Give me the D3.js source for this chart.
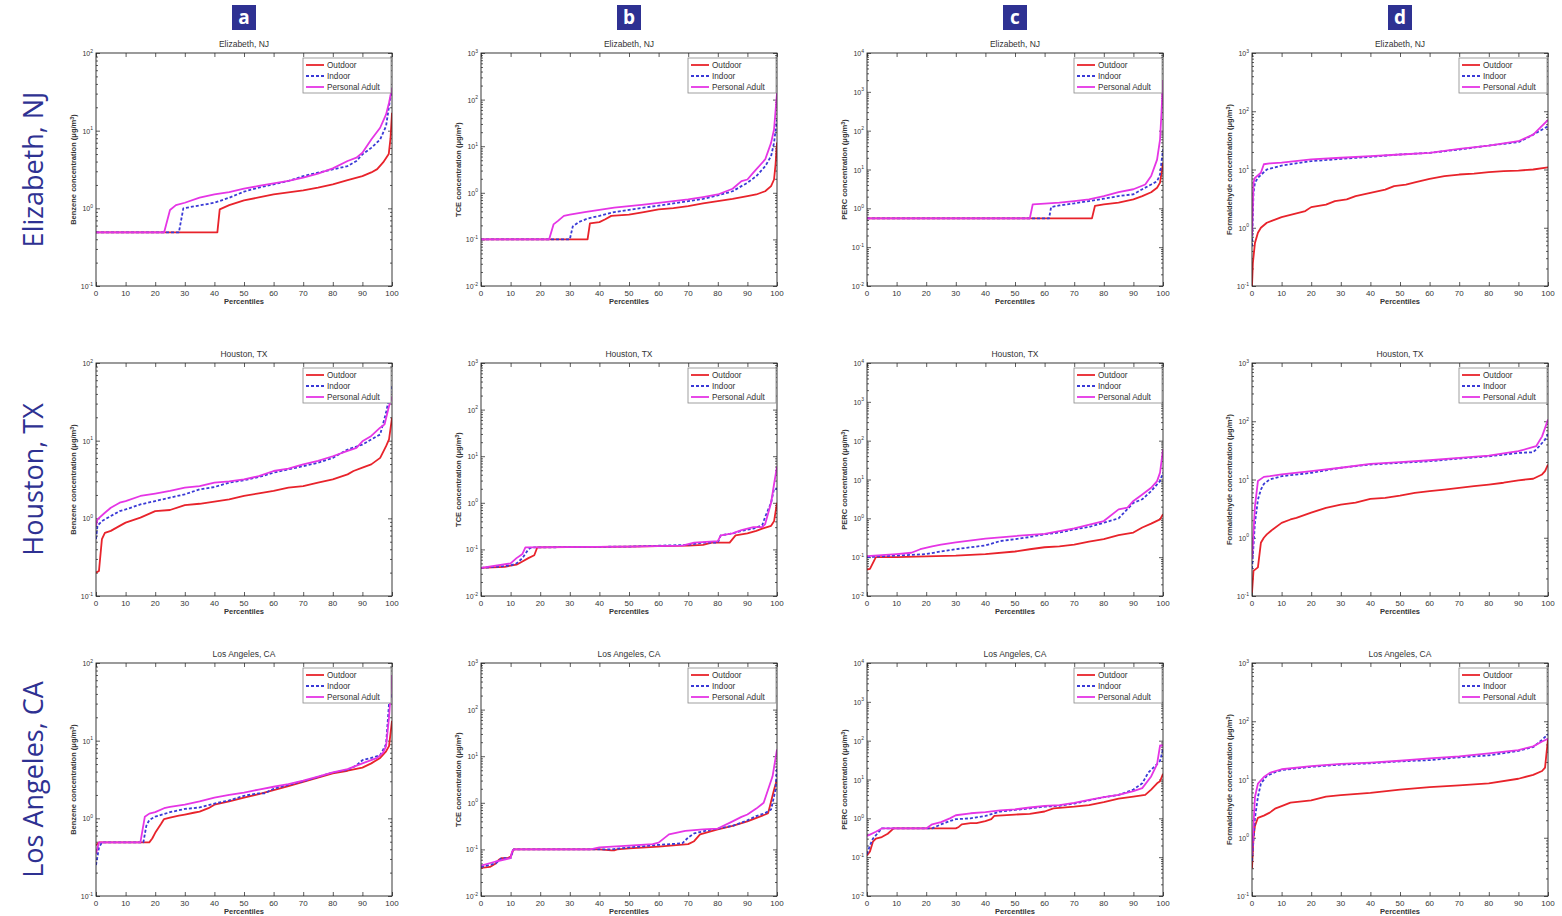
<!DOCTYPE html>
<html>
<head>
<meta charset="utf-8">
<script src="https://cdn.jsdelivr.net/npm/d3@7"></script>
<style>
  body { margin: 0; background: #fff; }
  svg { display: block; }
  text { font-family: "Liberation Sans", Arial, sans-serif; }
</style>
</head>
<body>
<div id="chart"></div>
<script>
// ---- data: [percentile, concentration µg/m3] ----
var cities = ["Elizabeth, NJ", "Houston, TX", "Los Angeles, CA"];
var panelLetters = ["a", "b", "c", "d"];
var pollutants = ["Benzene", "TCE", "PERC", "Formaldehyde"];
var yExponents = [[-1, 2], [-2, 3], [-2, 4], [-1, 3]];
var xTicks = [0, 10, 20, 30, 40, 50, 60, 70, 80, 90, 100];
var seriesNames = ["Outdoor", "Indoor", "Personal Adult"];

var elizBenzeneOut = [[0,0.49],[41,0.49],[41.8,0.97],[45,1.1],[50,1.27],[55,1.38],[60,1.51],[65,1.6],[70,1.7],[75,1.85],[80,2.04],[85,2.3],[90,2.6],[93,2.9],[95,3.2],[97,3.9],[98.9,5],[99.5,8],[100,17]];
var elizBenzeneIn = [[0,0.49],[28,0.49],[29.5,1.0],[35,1.09],[40,1.18],[45,1.37],[50,1.64],[55,1.85],[60,2.04],[65,2.25],[70,2.6],[75,2.88],[80,3.17],[85,3.5],[88,4.07],[90,4.95],[93,6.0],[96,7.7],[98,11.5],[99,20.7],[100,35.6]];
var elizBenzenePers = [[0,0.49],[23,0.49],[25,0.95],[27,1.1],[30,1.18],[35,1.37],[40,1.51],[45,1.62],[50,1.79],[55,1.94],[60,2.1],[65,2.25],[70,2.48],[75,2.8],[80,3.27],[85,4.07],[88,4.5],[90,5.2],[93,7.7],[96,10.9],[98,16.2],[99,22.9],[100,35.6]];

var elizTceOut = [[0,0.1],[36,0.1],[36.8,0.22],[40,0.235],[42,0.27],[44,0.32],[50,0.34],[55,0.385],[60,0.44],[65,0.47],[70,0.52],[75,0.59],[80,0.66],[85,0.74],[90,0.85],[93,0.92],[96,1.08],[98,1.39],[99,1.93],[99.5,4],[100,12]];
var elizTceIn = [[0,0.1],[30,0.1],[31,0.19],[33,0.235],[36,0.28],[40,0.32],[45,0.385],[50,0.43],[55,0.48],[60,0.53],[65,0.59],[70,0.66],[75,0.74],[80,0.88],[85,1.08],[88,1.39],[90,1.64],[93,2.27],[96,3.7],[98,6.1],[99,11.8],[100,37]];
var elizTcePers = [[0,0.1],[23,0.1],[24.5,0.21],[26,0.25],[28,0.32],[30,0.34],[35,0.385],[40,0.43],[45,0.48],[50,0.52],[55,0.56],[60,0.61],[65,0.66],[70,0.72],[75,0.81],[80,0.92],[85,1.22],[88,1.78],[90,1.93],[92,2.7],[96,5.2],[98,11.8],[99,22.8],[100,139]];

var elizPercOut = [[0,0.55],[76,0.55],[77,1.15],[80,1.27],[85,1.4],[90,1.7],[93,2.07],[96,2.6],[98,3.4],[99,4.6],[100,15]];
var elizPercIn = [[0,0.55],[61.5,0.55],[62.2,1.08],[65,1.19],[70,1.34],[75,1.54],[80,1.77],[85,2.07],[90,2.3],[93,3.1],[96,4.1],[98,5.0],[99,7.5],[100,33]];
var elizPercPers = [[0,0.55],[55,0.55],[56,1.27],[60,1.32],[65,1.4],[70,1.54],[75,1.7],[80,2.07],[85,2.6],[90,3.1],[94,4.1],[96,6.8],[98,18],[99,59],[99.5,300],[100,2000]];

var elizFormOut = [[0,0.1],[0.3,0.25],[1,0.55],[2,0.82],[3,1.0],[5,1.22],[8,1.39],[10,1.52],[15,1.76],[18,1.93],[20,2.26],[25,2.5],[28,2.86],[32,3.06],[35,3.5],[40,3.98],[45,4.5],[48,5.2],[52,5.5],[55,6.0],[60,6.9],[65,7.7],[70,8.2],[75,8.5],[80,9.0],[85,9.4],[90,9.6],[95,10],[100,10.9]];
var elizFormIn = [[0,0.48],[0.5,4],[1,5.9],[2,7.2],[5,10],[10,11.7],[20,13.9],[30,15.2],[40,16.5],[50,18.1],[60,19.3],[70,22],[80,25.8],[90,29.5],[93,34.9],[96,42.5],[100,55]];
var elizFormPers = [[0,0.72],[0.5,5.9],[1,7.2],[3,8.8],[4,12.3],[6,12.7],[10,13.1],[20,14.9],[30,15.9],[40,16.9],[50,18.1],[60,19.3],[70,22.6],[80,25.8],[90,30.6],[95,39.8],[100,71]];

var houBenzeneOut = [[0,0.2],[1,0.21],[2,0.54],[3,0.65],[5,0.69],[8,0.8],[10,0.88],[15,1.02],[20,1.24],[25,1.28],[30,1.48],[35,1.54],[40,1.64],[45,1.76],[50,1.94],[55,2.1],[60,2.25],[65,2.48],[70,2.6],[75,2.88],[80,3.17],[85,3.68],[87,4.07],[90,4.5],[93,4.95],[96,6.0],[98,8.5],[99,10.4],[100,19.7]];
var houBenzeneIn = [[0,0.54],[0.5,0.8],[2,0.92],[5,1.07],[8,1.24],[10,1.3],[15,1.51],[20,1.67],[25,1.85],[30,2.04],[35,2.36],[40,2.53],[45,2.88],[50,3.1],[55,3.4],[60,3.87],[65,4.27],[70,4.7],[75,5.2],[80,6.0],[85,7.7],[90,8.9],[93,10.4],[96,12.0],[98,23],[99,35.7],[100,50]];
var houBenzenePers = [[0,0.8],[0.5,0.97],[3,1.18],[5,1.37],[8,1.59],[10,1.67],[15,1.94],[20,2.08],[25,2.25],[30,2.48],[35,2.6],[40,2.88],[45,3.0],[50,3.17],[55,3.5],[60,4.07],[65,4.36],[70,4.95],[75,5.5],[80,6.3],[85,7.4],[88,8.1],[90,9.8],[93,11.5],[96,14.7],[97.5,16.2],[99,27.9],[100,37]];

var houTceOut = [[0,0.04],[8,0.042],[10,0.045],[12,0.047],[14,0.055],[16,0.065],[18,0.075],[19,0.11],[50,0.115],[70,0.12],[75,0.125],[78,0.14],[84,0.14],[86,0.2],[90,0.22],[93,0.25],[95,0.28],[98,0.32],[99,0.4],[100,1.0]];
var houTceIn = [[0,0.04],[10,0.045],[12,0.05],[14,0.065],[16,0.1],[17,0.11],[50,0.115],[70,0.125],[75,0.14],[80,0.14],[81,0.2],[85,0.22],[88,0.25],[92,0.28],[95,0.33],[96,0.5],[98,1.0],[99,2.0],[100,2.0]];
var houTcePers = [[0,0.04],[10,0.05],[12,0.065],[14,0.08],[15,0.11],[50,0.115],[68,0.12],[72,0.14],[80,0.15],[81,0.2],[85,0.22],[88,0.26],[92,0.3],[95,0.3],[96,0.35],[98,1.0],[99,2.5],[100,6]];

var houPercOut = [[0,0.048],[1,0.05],[3,0.1],[10,0.1],[20,0.105],[30,0.11],[40,0.12],[50,0.14],[55,0.16],[60,0.18],[65,0.19],[70,0.21],[75,0.25],[80,0.29],[85,0.37],[90,0.43],[93,0.58],[96,0.73],[99,0.94],[100,1.27]];
var houPercIn = [[0,0.1],[10,0.11],[20,0.12],[25,0.14],[30,0.16],[35,0.18],[40,0.2],[45,0.26],[50,0.29],[55,0.33],[60,0.39],[65,0.43],[70,0.52],[75,0.6],[80,0.77],[85,1.0],[90,2.5],[93,3.1],[96,5.0],[98,7.5],[99,9.1],[100,15]];
var houPercPers = [[0,0.106],[10,0.12],[15,0.13],[18,0.16],[22,0.19],[25,0.21],[30,0.24],[40,0.3],[50,0.35],[60,0.4],[70,0.55],[80,0.85],[85,1.7],[88,1.88],[90,2.8],[93,4.1],[96,6.1],[98,9.1],[99,15],[100,59]];

var houFormOut = [[0,0.114],[0.5,0.27],[2,0.31],[3,0.82],[4,1.0],[5,1.14],[7,1.39],[10,1.8],[13,2.06],[15,2.2],[20,2.7],[25,3.27],[30,3.7],[35,4.0],[40,4.66],[45,4.85],[50,5.3],[55,5.9],[60,6.3],[65,6.7],[70,7.2],[75,7.7],[80,8.2],[85,8.8],[90,9.7],[95,10.3],[98,12.2],[99,13.9],[100,18.1]];
var houFormIn = [[0,0.29],[1,1.8],[2,4.5],[3,6.7],[4,8.4],[6,10],[10,11.4],[20,13],[30,15.9],[40,18.1],[50,19.3],[60,20.6],[70,22.9],[80,25],[90,28.6],[95,29.4],[97,37],[99,48.5],[100,60]];
var houFormPers = [[0,0.43],[1,3.5],[2,9.4],[4,11.1],[6,11.4],[10,12.2],[20,13.9],[30,15.9],[40,18.6],[50,19.9],[60,21.4],[70,23.5],[80,25.8],[90,30.6],[96,37.3],[98,55],[100,107]];

var laBenzeneOut = [[0,0.45],[1,0.49],[18,0.49],[19,0.55],[20,0.65],[22,0.85],[23,0.98],[25,1.02],[28,1.08],[30,1.12],[33,1.18],[35,1.22],[38,1.35],[40,1.5],[45,1.65],[50,1.85],[55,2.05],[60,2.3],[65,2.6],[70,2.95],[75,3.35],[80,3.8],[85,4.1],[90,4.5],[93,5.1],[96,6.0],[98,7.3],[99,8.5],[100,18]];
var laBenzeneIn = [[0,0.25],[1,0.42],[2,0.49],[16,0.49],[17,0.8],[18,0.95],[20,1.05],[25,1.2],[30,1.32],[35,1.38],[40,1.55],[45,1.7],[50,1.95],[55,2.1],[57,2.1],[60,2.4],[65,2.7],[70,3.0],[75,3.4],[80,3.9],[85,4.2],[88,4.8],[90,5.6],[93,6.0],[96,6.5],[98,9],[99,30],[100,40]];
var laBenzenePers = [[0,0.35],[1,0.49],[15,0.49],[16.5,1.05],[18,1.15],[20,1.2],[23,1.35],[25,1.4],[30,1.5],[35,1.65],[40,1.85],[45,2.0],[50,2.15],[55,2.35],[60,2.55],[65,2.75],[70,3.05],[75,3.45],[80,3.9],[85,4.3],[90,5.1],[95,6.0],[97,7.0],[98,8.5],[99,20],[100,70]];

var laTceOut = [[0,0.04],[3,0.042],[5,0.05],[6,0.06],[7,0.065],[9,0.065],[10,0.07],[11,0.1],[40,0.1],[44,0.095],[45,0.095],[46,0.1],[50,0.105],[60,0.115],[70,0.13],[72,0.15],[74,0.21],[80,0.27],[85,0.32],[90,0.4],[96,0.56],[97,0.6],[99,1.9],[100,3.2]];
var laTceIn = [[0,0.042],[5,0.05],[7,0.065],[10,0.065],[11,0.1],[38,0.1],[44,0.1],[50,0.11],[60,0.125],[68,0.135],[70,0.18],[72,0.22],[77,0.26],[80,0.28],[85,0.32],[90,0.42],[93,0.52],[96,0.6],[98,0.72],[99.5,1.9],[100,6]];
var laTcePers = [[0,0.045],[5,0.055],[10,0.065],[10.5,0.09],[11,0.1],[37,0.1],[40,0.11],[50,0.12],[58,0.13],[60,0.14],[63.5,0.21],[69,0.25],[75,0.27],[80,0.28],[85,0.4],[88,0.5],[90,0.56],[93,0.75],[95.5,1.0],[98.5,3.7],[100,14]];

var laPercOut = [[0,0.11],[1,0.14],[2,0.25],[3,0.3],[5,0.33],[7,0.4],[9,0.55],[30,0.55],[31,0.6],[32,0.7],[35,0.75],[37,0.75],[40,0.85],[42,0.95],[43,1.15],[50,1.25],[55,1.3],[60,1.5],[63,1.8],[70,2.0],[75,2.2],[80,2.6],[85,3.2],[90,3.6],[94,4.0],[96,5.5],[98,8],[99,9],[100,14]];
var laPercIn = [[0,0.12],[1,0.2],[2,0.3],[4,0.45],[5,0.55],[22,0.55],[25,0.7],[28,0.85],[30,0.95],[35,1.0],[40,1.15],[45,1.5],[50,1.65],[55,1.8],[60,2.0],[65,2.1],[70,2.4],[75,2.9],[80,3.5],[85,4.0],[90,5.5],[93,8.0],[95,15],[98,25],[99,30],[100,60]];
var laPercPers = [[0,0.35],[1,0.38],[3,0.45],[5,0.55],[20,0.55],[22,0.7],[25,0.8],[28,1.0],[30,1.2],[35,1.35],[40,1.45],[45,1.6],[50,1.7],[55,1.9],[60,2.1],[65,2.2],[70,2.5],[75,3.0],[80,3.5],[85,4.0],[90,5.0],[93,6.0],[96,12],[98,25],[99,75],[100,75]];

var laFormOut = [[0,0.3],[0.5,1.0],[1,1.6],[2,2.2],[4,2.4],[6,2.7],[8,3.2],[10,3.5],[13,4.0],[20,4.4],[25,5.1],[30,5.4],[40,5.9],[50,6.7],[60,7.4],[70,7.9],[80,8.6],[90,10.3],[95,12],[98,14],[99,16],[100,50]];
var laFormIn = [[0,0.4],[1,2.2],[2,5],[3,8.5],[5,11.5],[8,13.5],[10,14.5],[20,16.5],[30,18],[40,19],[50,20.5],[60,21.5],[70,24],[80,26],[90,31],[95,36],[98,48],[100,60]];
var laFormPers = [[0,0.5],[1,5],[2,8.5],[4,11],[6,13],[10,15],[20,17],[30,18.5],[40,19.5],[50,21],[60,23],[70,25],[80,28],[90,32],[95,37],[98,45],[100,50]];

// rows = cities, cols = pollutants, each [outdoor, indoor, personal]
var panelData = [
  [[elizBenzeneOut, elizBenzeneIn, elizBenzenePers], [elizTceOut, elizTceIn, elizTcePers],
   [elizPercOut, elizPercIn, elizPercPers], [elizFormOut, elizFormIn, elizFormPers]],
  [[houBenzeneOut, houBenzeneIn, houBenzenePers], [houTceOut, houTceIn, houTcePers],
   [houPercOut, houPercIn, houPercPers], [houFormOut, houFormIn, houFormPers]],
  [[laBenzeneOut, laBenzeneIn, laBenzenePers], [laTceOut, laTceIn, laTcePers],
   [laPercOut, laPercIn, laPercPers], [laFormOut, laFormIn, laFormPers]]
];

// ---- layout ----
var W = 1562, H = 916;
var colLeft = [96, 481, 867, 1252],
    rowTop = [53, 363, 663],
    pw = 296, ph = 233;
var navy = "#2e3192";
var colors = ["#e8232b", "#3a3ad6", "#e535e5"];
var dashes = [null, "3,2", null];

var svg = d3.select("#chart").append("svg").attr("width", W).attr("height", H);

// column letters
panelLetters.forEach(function(l, c) {
  var cx = colLeft[c] + pw / 2;
  svg.append("rect").attr("x", cx - 12).attr("y", 5).attr("width", 24).attr("height", 25).attr("fill", navy);
  svg.append("text").attr("x", cx).attr("y", 24).attr("text-anchor", "middle")
    .attr("fill", "#fff").style("font-size", "19px").style("font-weight", "bold")
    .style("font-family", "'Open Sans', sans-serif").text(l);
});

// row labels
cities.forEach(function(city, r) {
  var cy = rowTop[r] + ph / 2;
  svg.append("text").attr("transform", "translate(43," + cy + ") rotate(-90)")
    .attr("text-anchor", "middle").attr("fill", navy)
    .style("font-size", "27px").style("font-family", "'Open Sans', sans-serif")
    .text(city);
});

var line = d3.line();

for (var r = 0; r < 3; r++) {
  for (var c = 0; c < 4; c++) {
    drawPanel(r, c);
  }
}

function drawPanel(r, c) {
  var ex = yExponents[c];
  var x = d3.scaleLinear().domain([0, 100]).range([0, pw]);
  var y = d3.scaleLog().domain([Math.pow(10, ex[0]), Math.pow(10, ex[1])]).range([ph, 0]);

  var g = svg.append("g").attr("transform", "translate(" + colLeft[c] + "," + rowTop[r] + ")");
  var clipId = "clip" + r + c;
  g.append("clipPath").attr("id", clipId).append("rect").attr("width", pw).attr("height", ph);

  var majors = d3.range(ex[0], ex[1] + 1).map(function(e) { return Math.pow(10, e); });
  var minors = [];
  d3.range(ex[0], ex[1]).forEach(function(e) {
    for (var k = 2; k < 10; k++) minors.push(k * Math.pow(10, e));
  });

  // ticks (inside, all sides, MATLAB style)
  var yAxisL = d3.axisLeft(y).tickValues(majors).tickSize(-4).tickFormat("");
  var yAxisR = d3.axisRight(y).tickValues(majors).tickSize(-4).tickFormat("");
  var yMinL = d3.axisLeft(y).tickValues(minors).tickSize(-2).tickFormat("");
  var yMinR = d3.axisRight(y).tickValues(minors).tickSize(-2).tickFormat("");
  var xAxisB = d3.axisBottom(x).tickValues(xTicks).tickSize(-4).tickFormat("");
  var xAxisT = d3.axisTop(x).tickValues(xTicks).tickSize(-4).tickFormat("");

  [[yAxisL, 0, 0], [yMinL, 0, 0], [yAxisR, pw, 0], [yMinR, pw, 0], [xAxisB, 0, ph], [xAxisT, 0, 0]].forEach(function(a) {
    var ag = g.append("g").attr("transform", "translate(" + a[1] + "," + a[2] + ")").call(a[0]);
    ag.select(".domain").remove();
    ag.selectAll("line").attr("stroke", "#333").attr("stroke-width", 0.8);
  });

  // y tick labels 10^n
  majors.forEach(function(v, i) {
    var t = g.append("text").attr("x", -3).attr("y", y(v) + 3).attr("text-anchor", "end")
      .attr("fill", "#333").style("font-size", "7px");
    t.append("tspan").text("10");
    t.append("tspan").attr("dy", -3.5).style("font-size", "5px").text(ex[0] + i);
  });

  // x tick labels
  xTicks.forEach(function(v) {
    g.append("text").attr("x", x(v)).attr("y", ph + 10).attr("text-anchor", "middle")
      .attr("fill", "#333").style("font-size", "8px").text(v);
  });

  // series
  var lines = g.append("g").attr("clip-path", "url(#" + clipId + ")");
  panelData[r][c].forEach(function(s, i) {
    line.x(function(d) { return x(d[0]); }).y(function(d) { return y(d[1]); });
    lines.append("path").datum(s).attr("d", line).attr("fill", "none")
      .attr("stroke", colors[i]).attr("stroke-width", 1.8)
      .attr("stroke-dasharray", dashes[i]).attr("stroke-linejoin", "round");
  });

  // frame
  g.append("rect").attr("width", pw).attr("height", ph).attr("fill", "none")
    .attr("stroke", "#222").attr("stroke-width", 0.9);

  // title and axis labels
  g.append("text").attr("x", pw / 2).attr("y", -6).attr("text-anchor", "middle")
    .attr("fill", "#333").style("font-size", "8.5px").text(cities[r]);
  g.append("text").attr("x", pw / 2).attr("y", ph + 17.5).attr("text-anchor", "middle")
    .attr("fill", "#333").style("font-size", "7.5px").style("font-weight", "bold").text("Percentiles");
  var yl = g.append("text").attr("transform", "translate(-20," + ph / 2 + ") rotate(-90)")
    .attr("text-anchor", "middle").attr("fill", "#333").style("font-size", "7.5px").style("font-weight", "bold");
  yl.append("tspan").text(pollutants[c] + " concentration (\u03bcg/m");
  yl.append("tspan").attr("dy", -2.5).style("font-size", "5.5px").text("3");
  yl.append("tspan").attr("dy", 2.5).text(")");

  // legend
  var lg = g.append("g").attr("transform", "translate(" + (pw - 89) + ",5)");
  lg.append("rect").attr("width", 88).attr("height", 35).attr("fill", "#fff")
    .attr("stroke", "#888").attr("stroke-width", 0.8);
  seriesNames.forEach(function(n, i) {
    var yy = 7 + i * 11;
    lg.append("line").attr("x1", 3).attr("x2", 21).attr("y1", yy).attr("y2", yy)
      .attr("stroke", colors[i]).attr("stroke-width", 1.8).attr("stroke-dasharray", dashes[i]);
    lg.append("text").attr("x", 24).attr("y", yy + 2.8).attr("fill", "#333")
      .style("font-size", "8.2px").text(n);
  });
}
</script>
</body>
</html>
